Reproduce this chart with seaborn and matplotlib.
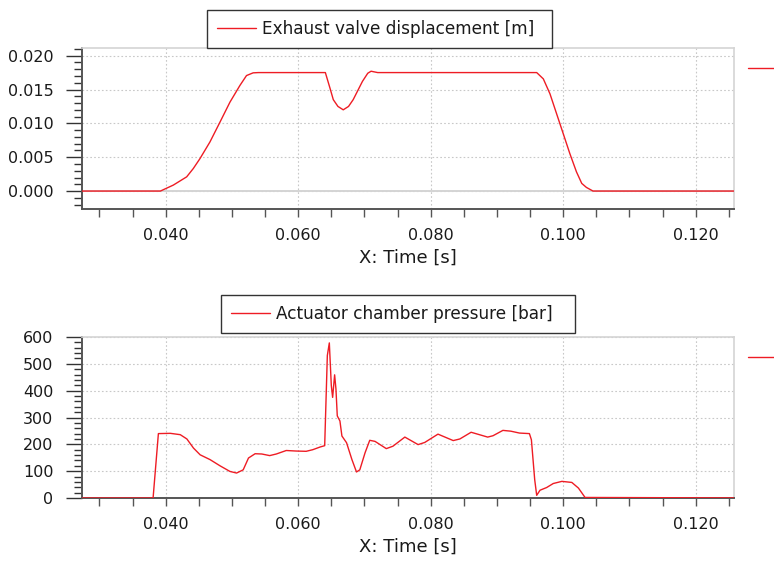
import numpy as np
import pandas as pd
import matplotlib
matplotlib.use("Agg")
import matplotlib.pyplot as plt
from matplotlib.lines import Line2D
from matplotlib.ticker import MultipleLocator, FormatStrFormatter
import seaborn as sns

# ---- data ----
disp_t = [0.020, 0.0392, 0.04115, 0.04317, 0.04417, 0.04518, 0.04668, 0.0482, 0.0497, 0.0512,
          0.0522, 0.0532, 0.0540,
          0.0641, 0.0648, 0.0653, 0.0660, 0.0668, 0.0676, 0.0683, 0.0697, 0.0705, 0.0710,
          0.0720, 0.0960, 0.0970, 0.0980, 0.0990, 0.1000, 0.1010, 0.1020, 0.1028, 0.1035,
          0.1045, 0.130]
disp_v = [0.0, 0.0, 0.00088, 0.0021, 0.00333, 0.0048, 0.00725, 0.01019, 0.01313, 0.01559,
          0.01706, 0.01746, 0.0175,
          0.0175, 0.0152, 0.0135, 0.0125, 0.0120, 0.0125, 0.0135, 0.0162, 0.0174, 0.0177,
          0.0175, 0.0175, 0.01657, 0.01437, 0.01143, 0.00849, 0.00554, 0.00284, 0.00113, 0.00054,
          0.0, 0.0]

pres_t = [0.020, 0.0381, 0.0389, 0.0407, 0.0422, 0.0432, 0.0442, 0.0452, 0.0467, 0.0482,
          0.0497, 0.0507, 0.0517, 0.0525, 0.0535, 0.0545, 0.0557, 0.0567, 0.0582, 0.0597,
          0.0612, 0.0622, 0.0633, 0.0640,
          0.0644, 0.0647, 0.0650, 0.0652, 0.0655, 0.0657, 0.0659, 0.0663, 0.0666, 0.0673,
          0.0681, 0.0688, 0.0693, 0.0701, 0.0708, 0.0716, 0.0733, 0.0743, 0.0761, 0.0781,
          0.0791, 0.0811, 0.0834, 0.0844, 0.0861, 0.0886, 0.0894, 0.0909, 0.0921, 0.0934,
          0.0949, 0.0952, 0.0957, 0.0960,
          0.0965, 0.0975, 0.0985, 0.0998, 0.1013, 0.1023, 0.1033, 0.130]
pres_v = [0, 0, 240, 241, 236, 220, 186, 161, 143, 120,
          99, 93, 105, 149, 165, 164, 158, 164, 177, 175,
          174, 180, 190, 195,
          531, 578, 419, 375, 459, 406, 306, 287, 231, 206,
          144, 97, 105, 169, 215, 211, 184, 193, 227, 199,
          207, 238, 214, 220, 245, 227, 232, 252, 249, 242,
          240, 217, 68, 10,
          29, 39, 54, 62, 58, 37, 2, 0]

disp_label = "Exhaust valve displacement [m]"
pres_label = "Actuator chamber pressure [bar]"
x_label = "X: Time [s]"

df1 = pd.DataFrame({"t": disp_t, "v": disp_v})
df2 = pd.DataFrame({"t": pres_t, "v": pres_v})

sns.set_style("white")
RED = "#ee1c24"
LIGHT = "#d4d4d4"
TXT = "#1a1a1a"
plt.rcParams.update({
    "font.family": ["DejaVu Sans"],
    "xtick.bottom": True, "ytick.left": True,
    "xtick.top": False, "ytick.right": False,
    "xtick.direction": "out", "ytick.direction": "out",
    "xtick.major.size": 5.8, "xtick.minor.size": 5.8,
    "xtick.major.width": 1.0, "xtick.minor.width": 1.0,
    "ytick.major.size": 11.5, "ytick.minor.size": 5.8,
    "ytick.major.width": 1.0, "ytick.minor.width": 1.0,
    "xtick.major.pad": 8, "ytick.major.pad": 9,
    "xtick.color": "#555555", "ytick.color": "#333333",
    "xtick.labelcolor": TXT, "ytick.labelcolor": TXT,
    "xtick.labelsize": 11.5, "ytick.labelsize": 11.5,
})

fig = plt.figure(figsize=(7.74, 5.62), dpi=100)
ax1 = fig.add_axes([82/774, 1-209/562, 652/774, 161/562])
ax2 = fig.add_axes([82/774, 1-498/562, 652/774, 161/562])

sns.lineplot(data=df1, x="t", y="v", ax=ax1, color=RED, lw=1.0, zorder=3)
sns.lineplot(data=df2, x="t", y="v", ax=ax2, color=RED, lw=1.0, zorder=3)

xlim = (0.02737, 0.12578)
for ax in (ax1, ax2):
    ax.set_xlim(*xlim)
    ax.xaxis.set_major_locator(MultipleLocator(0.02))
    ax.xaxis.set_minor_locator(MultipleLocator(0.005))
    ax.xaxis.set_major_formatter(FormatStrFormatter("%.3f"))
    ax.grid(True, which="major", color="#c8c8c8", linestyle=(0, (1.5, 2)), lw=0.8)
    ax.set_axisbelow(True)
    for s in ("left", "bottom"):
        ax.spines[s].set_color("#555555")
        ax.spines[s].set_linewidth(1.4)
    for s in ("top", "right"):
        ax.spines[s].set_color(LIGHT)
        ax.spines[s].set_linewidth(1.2)
    ax.set_xlabel(x_label, fontsize=13, color=TXT, labelpad=4)
    ax.set_ylabel("")

ax1.set_ylim(-0.00265, 0.02113)
ax1.yaxis.set_major_locator(MultipleLocator(0.005))
ax1.yaxis.set_minor_locator(MultipleLocator(0.001))
ax1.yaxis.set_major_formatter(FormatStrFormatter("%.3f"))
ax1.axhline(0, color=LIGHT, lw=1.4, zorder=2)

ax2.set_ylim(0, 600)
ax2.yaxis.set_major_locator(MultipleLocator(100))
ax2.yaxis.set_minor_locator(MultipleLocator(20))
ax2.yaxis.set_major_formatter(FormatStrFormatter("%d"))

def top_legend(label, x0, x1, yc):
    h = Line2D([], [], color=RED, lw=1.0)
    leg = fig.legend([h], [label], loc="center",
                     bbox_to_anchor=(x0/774, 1-yc/562, (x1-x0)/774, 0), mode="expand",
                     fontsize=12.2, frameon=True, fancybox=False, handlelength=2.3,
                     handletextpad=0.35, borderpad=0.6, borderaxespad=0)
    fr = leg.get_frame()
    fr.set_edgecolor("#333333")
    fr.set_linewidth(1.0)
    fr.set_facecolor("white")
    fr.set_alpha(1)
    for t in leg.get_texts():
        t.set_color(TXT)
    return leg

top_legend(disp_label, 207, 552, 29)
top_legend(pres_label, 221, 575, 314)

# clipped side legends at the right edge
for yc in (68, 357):
    fig.add_artist(Line2D([748/774, 1.0], [1-yc/562, 1-yc/562], color=RED, lw=1.0,
                          transform=fig.transFigure))

fig.savefig("out.png", dpi=100)
